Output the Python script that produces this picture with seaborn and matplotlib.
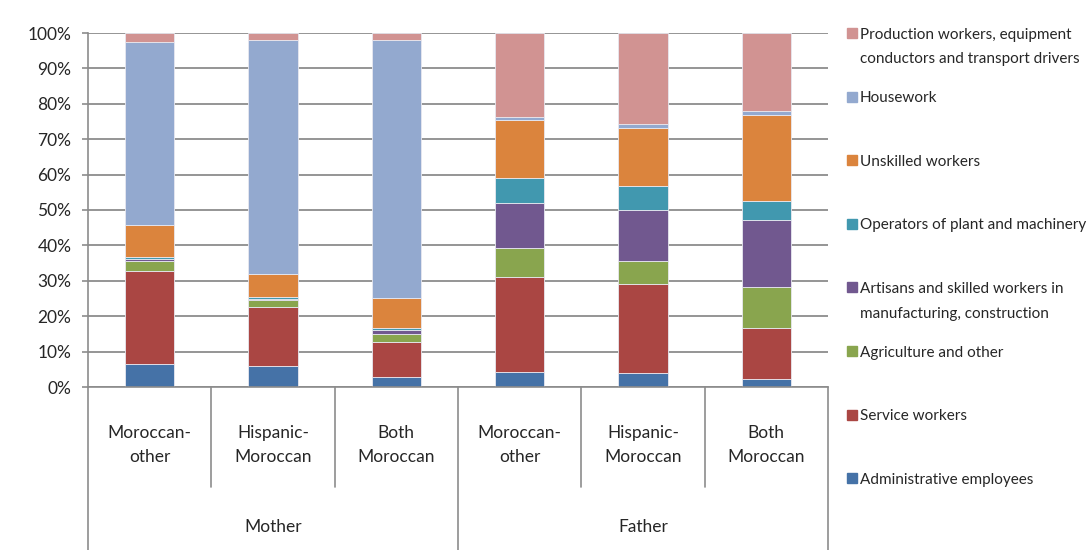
import numpy as np
import pandas as pd
import matplotlib.pyplot as plt
import seaborn as sns
from matplotlib.patches import Rectangle

sns.set_style('white')
plt.rcParams['font.family'] = ['Lato', 'DejaVu Sans']
plt.rcParams['font.size'] = 12

groups = ['Mother', 'Father']
origins = ['Moroccan-\nother', 'Hispanic-\nMoroccan', 'Both\nMoroccan'] * 2
keys = ['M1', 'M2', 'M3', 'F1', 'F2', 'F3']

occupations = ['Administrative employees', 'Service workers', 'Agriculture and other',
               'Artisans and skilled workers in\nmanufacturing, construction',
               'Operators of plant and machinery', 'Unskilled workers', 'Housework',
               'Production workers, equipment\nconductors and transport drivers']
colors = ['#4572A7', '#AA4643', '#89A54E', '#71588F', '#4198AF', '#DB843D', '#93A9CF', '#D19392']

admin = [6.4, 5.9, 2.7, 4.3, 3.9, 2.2]
service = [26.5, 16.8, 10.1, 26.9, 25.3, 14.4]
agri = [2.7, 1.8, 2.1, 8.0, 6.5, 11.6]
artisans = [0.5, 0.5, 1.1, 12.7, 14.2, 19.0]
operators = [0.5, 0.5, 0.6, 7.0, 6.9, 5.3]
unskilled = [9.1, 6.3, 8.5, 16.5, 16.4, 24.3]
housework = [51.8, 66.3, 73.0, 0.9, 1.1, 1.1]
production = [2.5, 1.9, 1.9, 23.7, 25.7, 22.1]

series = [admin, service, agri, artisans, operators, unskilled, housework, production]

W, H = 1088, 550
fig = plt.figure(figsize=(W / 100, H / 100), dpi=100)
ax = fig.add_axes([88 / W, 163 / H, 740 / W, 354 / H])

bottom = np.zeros(len(keys))
for name, vals, c in zip(occupations, series, colors):
    sns.barplot(x=keys, y=vals, bottom=bottom, color=c, saturation=1, width=0.4,
                errorbar=None, edgecolor='#e8e8f0', linewidth=0.6, ax=ax)
    bottom += np.array(vals)

ax.set_xlim(-0.5, 5.5)
ax.set_ylim(0, 100)
ax.set_yticks(range(0, 101, 10))
ax.set_yticklabels([f'{v}%' for v in range(0, 101, 10)], fontsize=12.5)
ax.yaxis.grid(True, color='#8c8c8c', lw=1.3)
ax.set_axisbelow(True)
ax.tick_params(axis='y', length=4.5, color='#8c8c8c', width=1.2, pad=7.5, left=True)
ax.tick_params(axis='x', length=0, labelbottom=False)
ax.set_xlabel('')
ax.set_ylabel('')
for s in ['top', 'right']:
    ax.spines[s].set_visible(False)
for s in ['left', 'bottom']:
    ax.spines[s].set_color('#8c8c8c')
    ax.spines[s].set_linewidth(1.2)

# two-level category axis
tr = ax.get_xaxis_transform()
for i in range(7):
    x = i - 0.5
    low = -0.46 if i % 3 == 0 else -0.2825
    ax.plot([x, x], [0, low], transform=tr, color='#8c8c8c', lw=1.2, clip_on=False)
for i, lab in enumerate(origins):
    ax.text(i, -0.164, lab, transform=tr, ha='center', va='center', fontsize=12.5,
            linespacing=1.6)
for j, g in enumerate(groups):
    ax.text(1 + 3 * j, -0.395, g, transform=tr, ha='center', va='center', fontsize=12.5)

# legend, one slot per entry like the spreadsheet legend
for i, (name, c) in enumerate(zip(occupations[::-1], colors[::-1])):
    yc = 33 + i * 63.6
    fig.patches.append(Rectangle((847 / W, 1 - (yc + 5) / H), 10 / W, 10 / H,
                                 transform=fig.transFigure, color=c))
    for k, line in enumerate(name.split('\n')):
        fig.text(860 / W, 1 - (yc + 5.5 + 25 * k) / H, line, va='baseline', ha='left',
                 fontsize=11)

fig.savefig('out.png', dpi=100)
